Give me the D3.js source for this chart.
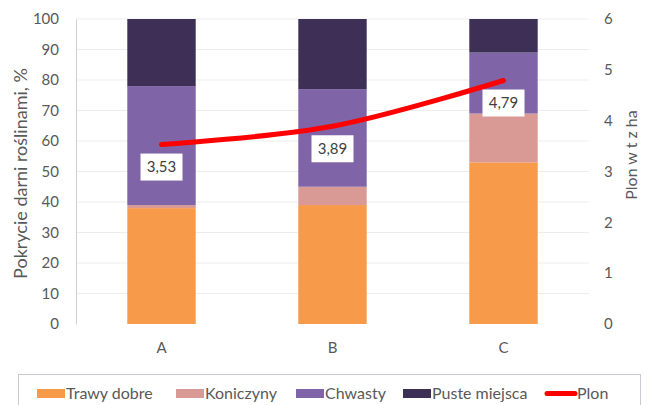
<!DOCTYPE html>
<html>
<head>
<meta charset="utf-8">
<script src="https://cdn.jsdelivr.net/npm/d3@7"></script>
<style>
  html, body { margin: 0; padding: 0; background: #fff; }
  svg { display: block; font-family: Lato, "Open Sans", sans-serif; }
</style>
</head>
<body>
<svg id="chart" width="650" height="405"></svg>
<script>
// Plots A, B, C: sward cover shares (%) and yield (t/ha)
const categories = ["A", "B", "C"];
const seriesNames = ["Trawy dobre", "Koniczyny", "Chwasty", "Puste miejsca"];
const trawyDobre = [38, 39, 53];
const koniczyny = [1, 6, 16];
const chwasty = [39, 32, 20];
const pusteMiejsca = [22, 23, 11];
const plon = [3.53, 3.89, 4.79];
const plonLabels = ["3,53", "3,89", "4,79"];
const leftTicks = [0, 10, 20, 30, 40, 50, 60, 70, 80, 90, 100];
const rightTicks = [0, 1, 2, 3, 4, 5, 6];
const colors = ["#f79a4a", "#d99a96", "#8064a8", "#3d2f55"];

const svg = d3.select("#chart");
const plotLeft = 76, plotRight = 589, plotTop = 19, plotBottom = 324;

const x = d3.scaleBand().domain(categories).range([plotLeft, plotRight]).paddingInner(0.6).paddingOuter(0.3);
const yL = d3.scaleLinear().domain([0, 100]).range([plotBottom, plotTop]);
const yR = d3.scaleLinear().domain([0, 6]).range([plotBottom, plotTop]);

// gridlines
svg.append("g").selectAll("line").data(leftTicks.slice(1)).join("line")
  .attr("x1", plotLeft).attr("x2", plotRight)
  .attr("y1", d => yL(d)).attr("y2", d => yL(d))
  .attr("stroke", "#ededed").attr("stroke-width", 1);

// stacked bars
const rows = categories.map((c, i) => ({
  cat: c,
  "Trawy dobre": trawyDobre[i],
  "Koniczyny": koniczyny[i],
  "Chwasty": chwasty[i],
  "Puste miejsca": pusteMiejsca[i]
}));
const stacked = d3.stack().keys(seriesNames)(rows);
svg.append("g").selectAll("g").data(stacked).join("g")
  .attr("fill", (d, i) => colors[i])
  .selectAll("rect").data(d => d).join("rect")
  .attr("x", d => x(d.data.cat))
  .attr("width", x.bandwidth())
  .attr("y", d => yL(d[1]))
  .attr("height", d => yL(d[0]) - yL(d[1]));

// left axis
const axL = svg.append("g").attr("transform", `translate(${plotLeft},0)`)
  .call(d3.axisLeft(yL).tickValues(leftTicks).tickSize(0).tickPadding(9));
axL.select(".domain").attr("stroke", "#d0d0d0");
axL.selectAll("text").attr("font-size", 15).attr("fill", "#595959")
  .attr("font-family", "Lato, sans-serif").attr("dx", -8);

// right axis
const axR = svg.append("g").attr("transform", `translate(${plotRight},0)`)
  .call(d3.axisRight(yR).tickValues(rightTicks).tickFormat(d3.format("d")).tickSize(0).tickPadding(15));
axR.select(".domain").remove();
axR.selectAll("text").attr("font-size", 15).attr("fill", "#595959")
  .attr("font-family", "Lato, sans-serif");

// category axis
const axX = svg.append("g").attr("transform", `translate(0,${plotBottom})`)
  .call(d3.axisBottom(x).tickSize(0).tickPadding(18));
axX.select(".domain").remove();
axX.selectAll("text").attr("font-size", 15).attr("fill", "#595959")
  .attr("font-family", "Lato, sans-serif");

// axis titles
svg.append("text")
  .attr("transform", `translate(27,${(plotTop + plotBottom) / 2 + 2}) rotate(-90)`)
  .attr("text-anchor", "middle").attr("font-size", 18).attr("fill", "#595959")
  .text("Pokrycie darni roślinami, %");
svg.append("text")
  .attr("transform", `translate(637,155) rotate(-90)`)
  .attr("text-anchor", "middle").attr("font-size", 16).attr("fill", "#595959")
  .text("Plon w t z ha");

// yield line
const cx = d => x(d) + x.bandwidth() / 2;
const line = d3.line()
  .x((d, i) => cx(categories[i]))
  .y(d => yR(d))
  .curve(d3.curveCatmullRom.alpha(0.5));
svg.append("path").datum(plon)
  .attr("d", line)
  .attr("fill", "none").attr("stroke", "#ff0000")
  .attr("stroke-width", 5).attr("stroke-linecap", "round");

// value labels
const lab = svg.append("g").selectAll("g").data(plon).join("g")
  .attr("transform", (d, i) => `translate(${cx(categories[i])},${yR(d) + 22})`);
lab.append("rect").attr("x", -21).attr("y", -13).attr("width", 42).attr("height", 27)
  .attr("fill", "#fff");
lab.append("text").attr("text-anchor", "middle").attr("dy", "0.35em")
  .attr("font-size", 15).attr("fill", "#404040")
  .text((d, i) => plonLabels[i]);

// legend
const lg = svg.append("g");
lg.append("rect").attr("x", 18.5).attr("y", 374.5).attr("width", 622).attr("height", 40)
  .attr("fill", "#fff").attr("stroke", "#c8cbd3");
const legendItems = [
  { name: "Trawy dobre", color: colors[0], sx: 37, tx: 66 },
  { name: "Koniczyny", color: colors[1], sx: 176, tx: 205 },
  { name: "Chwasty", color: colors[2], sx: 296, tx: 325 },
  { name: "Puste miejsca", color: colors[3], sx: 403, tx: 432 }
];
legendItems.forEach(it => {
  lg.append("rect").attr("x", it.sx).attr("y", 389).attr("width", 28).attr("height", 9)
    .attr("fill", it.color);
  lg.append("text").attr("x", it.tx).attr("y", 399).attr("font-size", 16)
    .attr("fill", "#595959").text(it.name);
});
lg.append("line").attr("x1", 547).attr("x2", 575).attr("y1", 393.5).attr("y2", 393.5)
  .attr("stroke", "#ff0000").attr("stroke-width", 5).attr("stroke-linecap", "round");
lg.append("text").attr("x", 577).attr("y", 399).attr("font-size", 16)
  .attr("fill", "#595959").text("Plon");
</script>
</body>
</html>
